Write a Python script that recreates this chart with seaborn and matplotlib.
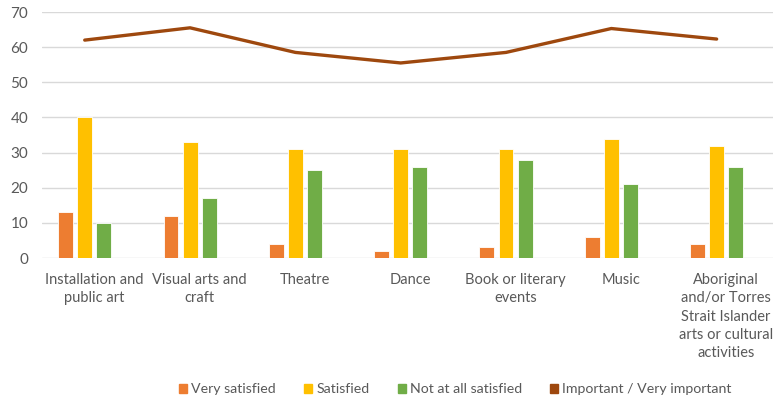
import numpy as np
import pandas as pd
import matplotlib.pyplot as plt
import seaborn as sns
from matplotlib.patches import Patch

# data
categories = ["Installation and\npublic art", "Visual arts and\ncraft", "Theatre", "Dance",
              "Book or literary\nevents", "Music",
              "Aboriginal\nand/or Torres\nStrait Islander\narts or cultural\nactivities"]
very_satisfied = [13, 12, 4, 2, 3, 6, 4]
satisfied = [40, 33, 31, 31, 31, 34, 32]
not_satisfied = [10, 17, 25, 26, 28, 21, 26]
important = [62, 65.5, 58.5, 55.5, 58.5, 65.3, 62.3]

series_names = ["Very satisfied", "Satisfied", "Not at all satisfied"]
colors = ["#ED7D31", "#FFC000", "#70AD47"]
line_color = "#9E480E"
text_color = "#595959"

df = pd.DataFrame({
    "category": categories * 3,
    "series": [s for s in series_names for _ in categories],
    "value": very_satisfied + satisfied + not_satisfied,
})

sns.set_theme(style="white")
plt.rcParams["font.family"] = ["Lato", "DejaVu Sans"]

fig = plt.figure(figsize=(7.73, 4.0), dpi=100)
ax = fig.add_axes([0.0543, 0.355, 0.9457, 0.615])

sns.barplot(data=df, x="category", y="value", hue="series", order=categories,
            hue_order=series_names, palette=colors, saturation=1, width=0.543, gap=0.215,
            edgecolor="white", linewidth=0.6, legend=False, ax=ax, zorder=3)

sns.lineplot(x=np.arange(len(categories)), y=important, color=line_color,
             linewidth=2.4, ax=ax, zorder=4)

ax.set_xlim(-0.406, 6.535)
ax.set_ylim(0, 70)
ax.set_yticks(range(0, 71, 10))
# excel puts the category labels a little right of the bar groups
ax.set_xticks(np.arange(len(categories)) + 0.09, categories)
ax.yaxis.grid(True, color="#D9D9D9", linewidth=1.0, zorder=0)
ax.set_axisbelow(True)
for s in ax.spines.values():
    s.set_visible(False)
ax.set_xlabel("")
ax.set_ylabel("")
ax.tick_params(axis="y", colors=text_color, labelsize=11, length=0, pad=10)
ax.tick_params(axis="x", colors=text_color, labelsize=10.5, length=0, pad=11)
for lab in ax.get_xticklabels():
    lab.set_linespacing(1.38)
    lab.set_verticalalignment("top")

handles = [Patch(color=c) for c in colors] + [Patch(color=line_color)]
labels = series_names + ["Important / Very important"]
fig.legend(handles, labels, loc="center", bbox_to_anchor=(0.589, 0.027), ncol=4,
           frameon=False, fontsize=10.2, labelcolor=text_color, handlelength=0.56,
           handleheight=0.56, handletextpad=0.3, columnspacing=2.0)

fig.savefig("out.png", dpi=100)
